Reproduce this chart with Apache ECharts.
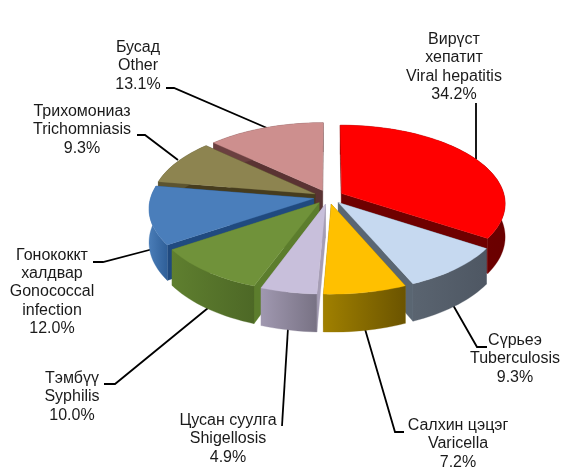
<!DOCTYPE html>
<html><head><meta charset="utf-8">
<style>html,body{margin:0;padding:0;background:#fff}#c{width:561px;height:468px}</style>
<script src="https://cdn.jsdelivr.net/npm/echarts@6/dist/echarts.min.js"></script>
</head><body><div id="c"></div>
<script>
const namesMn = ["Вирүст\nхепатит","Сүрьеэ","Салхин цэцэг","Цусан суулга","Тэмбүү","Гонококкт\nхалдвар","Трихомониаз","Бусад"];
const namesEn = ["Viral hepatitis","Tuberculosis","Varicella","Shigellosis","Syphilis","Gonococcal\ninfection","Trichomniasis","Other"];
const values = [34.2,9.3,7.2,4.9,10.0,12.0,9.3,13.1];

const topColors = ["#ff0000","#c6d9f0","#ffc000","#c8bfdb","#70923a","#4a7ebb","#8d8450","#cd8f8e"];
const wallColors = [["#7d0000","#6a0000"],["#5a6470","#4e5763"],["#a08000","#6b5400"],["#a098b0","#787284"],["#5f7f2f","#4d6826"],["#4a7db8","#2f5f98"],["#5c5430","#5c5430"],["#6b4040","#6b4040"]];
const cutColors = ["#6f0000","#5a6672","#8a6c00","#a59db4","#5c7d2d","#204a7f","#463c1e","#5a3333"];
const labelPos = [[454,67],[515,359],[458,444],[228,439],[72,397],[52,292],[82,130],[138,66]];
const leaders = [
 [[476,103],[476,159]],
 [[453,305],[477,347],[487,347]],
 [[365,329],[395,432],[404,432]],
 [[288,328],[282,426]],
 [[208,308],[115,384],[104,384]],
 [[153,249],[103,262],[93,262]],
 [[178,160],[145,135],[137,135]],
 [[267,128],[174,88],[166,88]]
];

const cx=328.5, cy=197, R=163, tilt=0.475, persp=0.12, explode=15, depth=33;
const rad=d=>d*Math.PI/180;
const total=values.reduce((a,b)=>a+b,0);
let acc=0;
const spans=values.map(v=>{const a=acc/total*360;acc+=v;return [a,acc/total*360];});
const mid=i=>(spans[i][0]+spans[i][1])/2;
const drawOrder=values.map((_,i)=>i).sort((a,b)=>Math.cos(rad(mid(b)))-Math.cos(rad(mid(a))));

function project(X,Z,down){
  const s=1/(1+persp*Z/R);
  return [cx+X*s, cy-Z*tilt*s+(down?depth*s:0)];
}
function sliceShapes(i){
  const [a0,a1]=spans[i], m=rad(mid(i));
  const ox=explode*Math.sin(m), oz=explode*Math.cos(m);
  const pt=(deg,r,down)=>project(ox+r*Math.sin(rad(deg)),oz+r*Math.cos(rad(deg)),down);
  const n=Math.max(6,Math.ceil((a1-a0)/2));
  const arcTop=[],arcBot=[];
  for(let k=0;k<=n;k++){const d=a0+(a1-a0)*k/n;arcTop.push(pt(d,R,false));arcBot.push(pt(d,R,true));}
  const apexT=pt(0,0,false), apexB=pt(0,0,true);
  return {
    top:[apexT,...arcTop],
    wall:[...arcTop,...arcBot.slice().reverse()],
    cut0:[apexT,arcTop[0],arcBot[0],apexB],
    cut1:[apexT,arcTop[n],arcBot[n],apexB]
  };
}
const poly=(points,fill)=>({type:'polygon',shape:{points},style:{fill,stroke:fill,lineWidth:0.3}});
const hGrad=(a,b)=>new echarts.graphic.LinearGradient(0,0,1,0,[{offset:0,color:a},{offset:1,color:b}]);

const chart=echarts.init(document.getElementById('c'),null,{renderer:'canvas'});
chart.setOption({
  animation:false,
  backgroundColor:'#ffffff',
  series:[
  {
    type:'custom',name:'labels',coordinateSystem:'none',z:1,silent:true,
    data:values.map((v,i)=>[i,v]),
    renderItem(p,api){
      const i=api.value(0);
      const txt=namesMn[i]+"\n"+namesEn[i]+"\n"+api.value(1).toFixed(1)+"%";
      return {type:'group',children:[
        {type:'polyline',shape:{points:leaders[i]},style:{fill:null,stroke:'#000',lineWidth:1.8}},
        {type:'text',style:{text:txt,x:labelPos[i][0],y:labelPos[i][1],align:'center',verticalAlign:'middle',
          font:'16px "Liberation Sans", Arial, sans-serif',lineHeight:18.3,fill:'#1a1a1a'}}
      ]};
    }
  },
  {
    type:'custom',name:'slices',coordinateSystem:'none',z:2,silent:true,
    data:drawOrder.map(i=>[i,values[i]]),
    renderItem(p,api){
      const i=api.value(0), s=sliceShapes(i);
      return {type:'group',children:[
        poly(s.cut0,cutColors[i]),
        poly(s.cut1,cutColors[i]),
        poly(s.wall,hGrad(wallColors[i][0],wallColors[i][1])),
        poly(s.top,topColors[i])
      ]};
    }
  }]
});
</script></body></html>
